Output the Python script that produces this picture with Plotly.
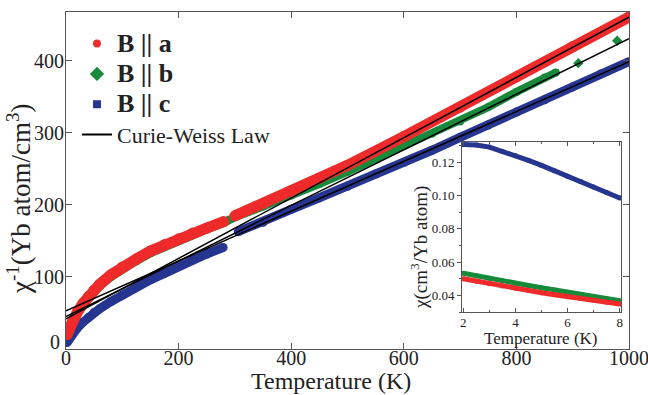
import plotly.graph_objects as go

# ---- inverse susceptibility, 1/chi (Yb atom/cm^3), vs temperature (K) ----
# B || a : low-temperature run and high-temperature run
red_T_low = [2, 5, 10, 20, 30, 40, 50, 60, 80, 100, 125, 150, 175, 200, 225, 250, 280]
red_low = [20, 27, 36, 51, 63, 73, 82, 90, 103, 114, 125, 136, 145, 153, 161, 168, 177]
red_T_high = [300, 350, 400, 450, 500, 600, 700, 800, 900, 1000]
red_high = [185, 202, 219, 237, 255, 295, 336, 378, 420, 461]

# B || b : dense run plus a few sparse high-temperature points
green_T = [2, 5, 10, 20, 30, 40, 50, 60, 80, 100, 125, 150, 175, 200, 225, 250, 280, 290,
           300, 350, 400, 450, 500, 550, 600, 650, 700, 750, 800, 850, 870]
green_v = [19, 25, 34, 48, 60, 70, 79, 87, 100, 111, 122, 133, 142, 150, 158, 166, 175, 180,
           183, 198, 213, 229, 246, 264, 282, 299, 316, 336, 357, 377, 384]
green_T_sparse = [910, 979]
green_sparse = [397, 428]

# B || c : low-temperature run and high-temperature run
blue_T_low = [2, 5, 10, 20, 30, 40, 50, 60, 80, 100, 125, 150, 175, 200, 225, 250, 279]
blue_low = [9, 13, 20, 29, 37, 44, 51, 56, 66, 75, 86, 96, 105, 115, 124, 132, 141]
blue_T_high = [306, 350, 400, 450, 500, 550, 600, 650, 700, 750, 800, 850, 900, 950, 1000]
blue_high = [163, 176, 194, 210, 226, 243, 259, 276, 294, 311, 329, 346, 364, 382, 399]

# Curie-Weiss fits (end points of each straight line)
cw_T = [0, 1000]
cw_a = [42, 461]
cw_b = [45, 431]
cw_c = [53, 399]

# axis tick values / labels of the main panel
x_ticks = [0, 200, 400, 600, 800, 1000]
y_ticks = [0, 100, 200, 300, 400]
y_ticklabels = ["", "100", "200", "300", "400"]   # the "0" is set slightly higher

# ---- inset: chi (cm^3/Yb atom) at low temperature ----
ins_T = [2, 2.5, 3, 3.5, 4, 4.5, 5, 5.5, 6, 6.5, 7, 7.5, 8]
ins_a = [0.0500, 0.0485, 0.0470, 0.0456, 0.0442, 0.0429, 0.0416, 0.0404, 0.0392,
         0.0381, 0.0370, 0.0359, 0.0348]
ins_b = [0.0533, 0.0517, 0.0502, 0.0487, 0.0473, 0.0459, 0.0446, 0.0432, 0.0419,
         0.0406, 0.0393, 0.0380, 0.0368]
ins_c = [0.1305, 0.1303, 0.1290, 0.1265, 0.1238, 0.1210, 0.1180, 0.1148, 0.1115,
         0.1083, 0.1050, 0.1017, 0.0984]

RED = "#ee2a2a"
GREEN = "#178a3c"
BLUE = "#26358f"
SERIF = "Liberation Serif, Times New Roman, serif"
TXT = "#222222"
AX = "#555555"

fig = go.Figure()


def band(x, y, color, width, xa="x", ya="y"):
    fig.add_trace(go.Scatter(
        x=x, y=y, mode="lines+markers", xaxis=xa, yaxis=ya,
        line=dict(color=color, width=width),
        marker=dict(color=color, size=width, line=dict(width=0)),
        showlegend=False, hoverinfo="skip"))


# main panel data bands
band(green_T, green_v, GREEN, 8)
band(blue_T_low, blue_low, BLUE, 9)
band(blue_T_high, blue_high, BLUE, 9)
band(red_T_low, red_low, RED, 11)
band(red_T_high, red_high, RED, 11)
fig.add_trace(go.Scatter(
    x=green_T_sparse, y=green_sparse, mode="markers",
    marker=dict(symbol="diamond", color=GREEN, size=8, line=dict(width=0)),
    showlegend=False, hoverinfo="skip"))

# Curie-Weiss lines on top
for cw in (cw_a, cw_b, cw_c):
    fig.add_trace(go.Scatter(
        x=cw_T, y=cw, mode="lines", line=dict(color="black", width=1.5),
        showlegend=False, hoverinfo="skip"))

# inset bands
band(ins_T, ins_b, GREEN, 5, "x2", "y2")
band(ins_T, ins_a, RED, 5, "x2", "y2")
band(ins_T, ins_c, BLUE, 5, "x2", "y2")

# legend entries
BIG = '<span style="font-size:26px"><b>%s</b></span>'
fig.add_trace(go.Scatter(x=[None], y=[None], mode="markers", name=BIG % "B || a",
                         marker=dict(symbol="circle", color=RED, size=8)))
fig.add_trace(go.Scatter(x=[None], y=[None], mode="markers", name=BIG % "B || b",
                         marker=dict(symbol="diamond", color=GREEN, size=11)))
fig.add_trace(go.Scatter(x=[None], y=[None], mode="markers", name=BIG % "B || c",
                         marker=dict(symbol="square", color=BLUE, size=8)))
fig.add_trace(go.Scatter(x=[None], y=[None], mode="lines",
                         name='<span style="font-size:22px">Curie-Weiss Law</span>',
                         line=dict(color="black", width=2)))

axis_common = dict(showline=True, linecolor=AX, linewidth=1, showgrid=False,
                   zeroline=False, tickcolor=AX, ticklabeloverflow="allow",
                   automargin=False,
                   tickfont=dict(family=SERIF, size=20, color=TXT))

fig.update_layout(
    width=648, height=395,
    margin=dict(l=66, r=19, t=12, b=46),
    paper_bgcolor="white", plot_bgcolor="white",
    xaxis=dict(range=[0, 1000], tickvals=x_ticks, mirror="ticks",
               ticks="inside", ticklen=6, ticklabelstandoff=-9, **axis_common),
    yaxis=dict(range=[0, 468], tickvals=y_ticks, ticktext=y_ticklabels, mirror="ticks",
               ticks="inside", ticklen=6, ticklabelstandoff=-3, **axis_common),
    xaxis2=dict(domain=[0.7034, 0.9858], anchor="y2", range=[1.95, 8.05],
                dtick=2, tick0=2, ticks="inside", ticklen=4, mirror="ticks",
                minor=dict(dtick=1, ticks="inside", ticklen=2, tickcolor=AX),
                showline=True, linecolor=AX, linewidth=1, showgrid=False,
                zeroline=False, tickcolor=AX, ticklabelstandoff=-2, automargin=False,
                tickfont=dict(family=SERIF, size=13, color=TXT)),
    yaxis2=dict(domain=[0.1098, 0.614], anchor="x2", range=[0.030, 0.132],
                dtick=0.02, tick0=0.04, tickformat=".2f", ticks="outside",
                ticklen=4, mirror=True, automargin=False,
                minor=dict(dtick=0.01, ticks="outside", ticklen=2, tickcolor=AX),
                showline=True, linecolor=AX, linewidth=1, showgrid=False,
                zeroline=False, tickcolor=AX,
                tickfont=dict(family=SERIF, size=13, color=TXT)),
    yaxis3=dict(overlaying="y2", anchor="x2", side="right", range=[0.030, 0.132],
                dtick=0.02, tick0=0.04, ticks="inside", ticklen=4, automargin=False,
                minor=dict(dtick=0.01, ticks="inside", ticklen=2, tickcolor=AX),
                showticklabels=False, showline=False, showgrid=False,
                zeroline=False, tickcolor=AX),
    legend=dict(x=0.0195, y=0.966, xanchor="left", yanchor="top",
                bgcolor="rgba(0,0,0,0)", borderwidth=0, tracegroupgap=0,
                font=dict(family=SERIF, size=21, color=TXT)),
    annotations=[
        dict(text="0", xref="paper", yref="paper", x=-0.0065, y=0.02,
             xanchor="right", yanchor="middle", showarrow=False,
             font=dict(family=SERIF, size=20, color=TXT)),
        dict(text="Temperature (K)", xref="paper", yref="paper", x=0.4707, y=-0.095,
             xanchor="center", yanchor="middle", showarrow=False,
             font=dict(family=SERIF, size=24, color=TXT)),
        dict(text="χ<sup>-1</sup>(Yb atom/cm<sup>3</sup>)", xref="paper", yref="paper",
             x=-0.0835, y=0.445, xanchor="center", yanchor="middle", textangle=-90,
             showarrow=False, font=dict(family=SERIF, size=27, color=TXT)),
        dict(text="Temperature (K)", xref="paper", yref="paper", x=0.8437, y=0.030,
             xanchor="center", yanchor="middle", showarrow=False,
             font=dict(family=SERIF, size=17, color=TXT)),
        dict(text="χ(cm<sup>3</sup>/Yb atom)", xref="paper", yref="paper",
             x=0.6288, y=0.30, xanchor="center", yanchor="middle", textangle=-90,
             showarrow=False, font=dict(family=SERIF, size=19, color=TXT)),
    ],
)

fig.write_html("out.html")
